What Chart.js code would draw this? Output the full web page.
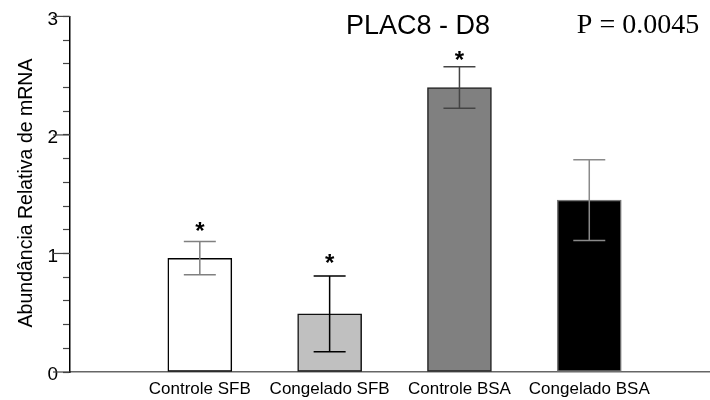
<!DOCTYPE html>
<html>
<head>
<meta charset="utf-8">
<script src="https://cdn.jsdelivr.net/npm/chart.js"></script>
<style>
  html, body { margin: 0; padding: 0; background: #fff; }
  #wrap { width: 710px; height: 400px; }
</style>
</head>
<body>
<div id="wrap"><canvas id="grafico"></canvas></div>
<script>
const categorias = ['Controle SFB', 'Congelado SFB', 'Controle BSA', 'Congelado BSA'];
const posicoes = [1, 2, 3, 4];
const medias = [0.96, 0.49, 2.40, 1.45];
const erros = [0.14, 0.32, 0.175, 0.34];
const asteriscos = [1.24, 0.97, 2.68, null];   // onde fica o * (valor no eixo y)
const yTicks = [0, 1, 2, 3];

const corBarra = ['#ffffff', '#c0c0c0', '#808080', '#000000'];
const corBorda = ['#000000', '#111111', '#222222', '#777777'];
const corErro = ['#808080', '#000000', '#444444', '#8a8a8a'];

// barras de erro, asteriscos e textos
const extras = {
  id: 'extras',
  afterDatasetsDraw(chart) {
    const ctx = chart.ctx;
    const x = chart.scales.x, y = chart.scales.y;
    ctx.save();
    posicoes.forEach((p, i) => {
      const px = x.getPixelForValue(p);
      const yt = y.getPixelForValue(medias[i] + erros[i]);
      const yb = y.getPixelForValue(medias[i] - erros[i]);
      ctx.strokeStyle = corErro[i];
      ctx.lineWidth = 1.5;
      ctx.beginPath();
      ctx.moveTo(px, yt); ctx.lineTo(px, yb);
      ctx.moveTo(px - 16, yt); ctx.lineTo(px + 16, yt);
      ctx.moveTo(px - 16, yb); ctx.lineTo(px + 16, yb);
      ctx.stroke();
      if (asteriscos[i] != null) {
        ctx.fillStyle = '#000';
        ctx.font = 'bold 24px "Liberation Sans", Arial, sans-serif';
        ctx.textAlign = 'center';
        ctx.textBaseline = 'alphabetic';
        ctx.fillText('*', px, y.getPixelForValue(asteriscos[i]) + 14);
      }
    });
    ctx.restore();
  },
  afterDraw(chart) {
    const ctx = chart.ctx;
    const y = chart.scales.y;
    const a = chart.chartArea;
    ctx.save();
    // ticks maiores
    ctx.strokeStyle = '#444';
    ctx.lineWidth = 1.2;
    yTicks.forEach(v => {
      const py = y.getPixelForValue(v);
      ctx.beginPath();
      ctx.moveTo(a.left - 17, py); ctx.lineTo(a.left, py);
      ctx.stroke();
    });
    ctx.fillStyle = '#000';
    ctx.textBaseline = 'alphabetic';
    ctx.textAlign = 'center';
    ctx.font = '27px "Liberation Sans", Arial, sans-serif';
    ctx.fillText('PLAC8 - D8', 418, 34);
    ctx.font = '28px "Liberation Serif", "Times New Roman", serif';
    ctx.fillText('P = 0.0045', 638, 33);
    // titulo do eixo y
    ctx.translate(32, 193);
    ctx.rotate(-Math.PI / 2);
    ctx.font = '19.5px "Liberation Sans", Arial, sans-serif';
    ctx.fillText('Abundância Relativa de mRNA', 0, 0);
    ctx.restore();
  }
};

new Chart(document.getElementById('grafico'), {
  type: 'bar',
  data: {
    datasets: [{
      data: posicoes.map((p, i) => ({ x: p, y: medias[i] })),
      backgroundColor: corBarra,
      borderColor: corBorda,
      borderWidth: 1.5,
      borderSkipped: false,
      barThickness: 64
    }]
  },
  options: {
    responsive: true,
    maintainAspectRatio: false,
    animation: false,
    layout: { padding: { top: 13, right: 0, bottom: 0, left: 0 } },
    plugins: { legend: { display: false }, tooltip: { enabled: false } },
    scales: {
      x: {
        type: 'linear',
        offset: false,
        min: 0,
        max: 4.93,
        afterBuildTicks: s => { s.ticks = posicoes.map(v => ({ value: v })); },
        afterFit: s => { s.height = 28; },
        grid: { display: false, drawTicks: false, offset: false },
        border: { display: true, color: '#666', width: 1.5 },
        ticks: {
          color: '#000',
          padding: 7,
          autoSkip: false,
          maxRotation: 0,
          font: { family: '"Liberation Sans", Arial, sans-serif', size: 17 },
          callback: v => categorias[posicoes.indexOf(v)] || ''
        }
      },
      y: {
        min: 0,
        max: 3,
        afterFit: s => { s.width = 70; },
        grid: { drawOnChartArea: false, tickLength: 7, tickColor: '#444', tickWidth: 1.2 },
        border: { display: true, color: '#000', width: 1.5 },
        ticks: {
          stepSize: 0.2,
          autoSkip: false,
          color: '#000',
          padding: 5,
          labelOffset: 3,
          font: { family: '"Liberation Sans", Arial, sans-serif', size: 19 },
          callback: v => {
            const r = Math.round(v);
            return (Math.abs(v - r) < 1e-6 && yTicks.includes(r)) ? String(r) : '';
          }
        }
      }
    }
  },
  plugins: [extras]
});
</script>
</body>
</html>
